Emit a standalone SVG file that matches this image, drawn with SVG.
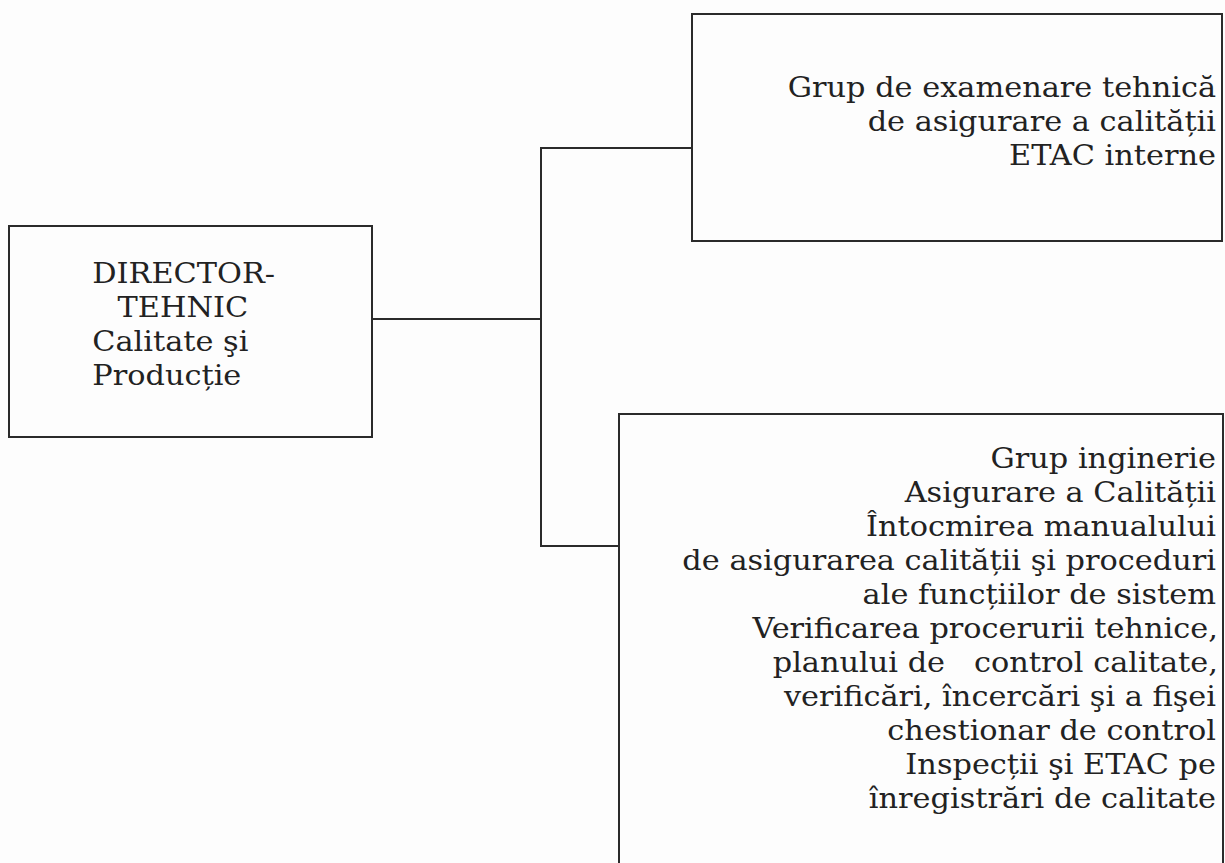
<svg xmlns="http://www.w3.org/2000/svg" width="1225" height="863" viewBox="0 0 1225 863">
<style>
.box{fill:none;stroke:#2b2b2b;stroke-width:2}
.conn{fill:none;stroke:#2b2b2b;stroke-width:2}
.t{font-family:"DejaVu Serif","Liberation Serif",serif;font-size:27px;fill:#222222}
.r{text-anchor:end}
</style>
<rect x="0" y="0" width="1225" height="863" fill="#fdfdfd"/>
<g id="connectors">
<polyline class="conn" points="372,319 541,319"/>
<polyline class="conn" points="692,148 541,148 541,546 619,546"/>
</g>
<g id="node-director">
<rect class="box" x="9" y="226" width="363" height="211"/>
<g transform="scale(1.125,1)">
<text class="t" x="82" y="283">DIRECTOR-</text>
<text class="t" x="104.5" y="317">TEHNIC</text>
<text class="t" x="82" y="351">Calitate şi</text>
<text class="t" x="82" y="385">Producție</text>
</g>
</g>
<g id="node-etac">
<rect class="box" x="692" y="14" width="530" height="227"/>
<g transform="scale(1.125,1)">
<text class="t r" x="1080.9" y="97">Grup de examenare tehnică</text>
<text class="t r" x="1080.9" y="131">de asigurare a calității</text>
<text class="t r" x="1080.9" y="165">ETAC interne</text>
</g>
</g>
<g id="node-inginerie">
<rect class="box" x="619" y="414" width="604" height="480"/>
<g transform="scale(1.125,1)">
<text class="t r" x="1080.9" y="468">Grup inginerie</text>
<text class="t r" x="1080.9" y="502">Asigurare a Calității</text>
<text class="t r" x="1080.9" y="536">Întocmirea manualului</text>
<text class="t r" x="1080.9" y="570">de asigurarea calității şi proceduri</text>
<text class="t r" x="1080.9" y="604">ale funcțiilor de sistem</text>
<text class="t r" x="1082.5" y="638">Verificarea procerurii tehnice,</text>
<text class="t r" x="1082.5" y="672">planului de&#160;&#160; control calitate,</text>
<text class="t r" x="1080.9" y="706">verificări, încercări şi a fişei</text>
<text class="t r" x="1080.9" y="740">chestionar de control</text>
<text class="t r" x="1080.9" y="774">Inspecții şi ETAC pe</text>
<text class="t r" x="1080.9" y="808">înregistrări de calitate</text>
</g>
</g>
</svg>
